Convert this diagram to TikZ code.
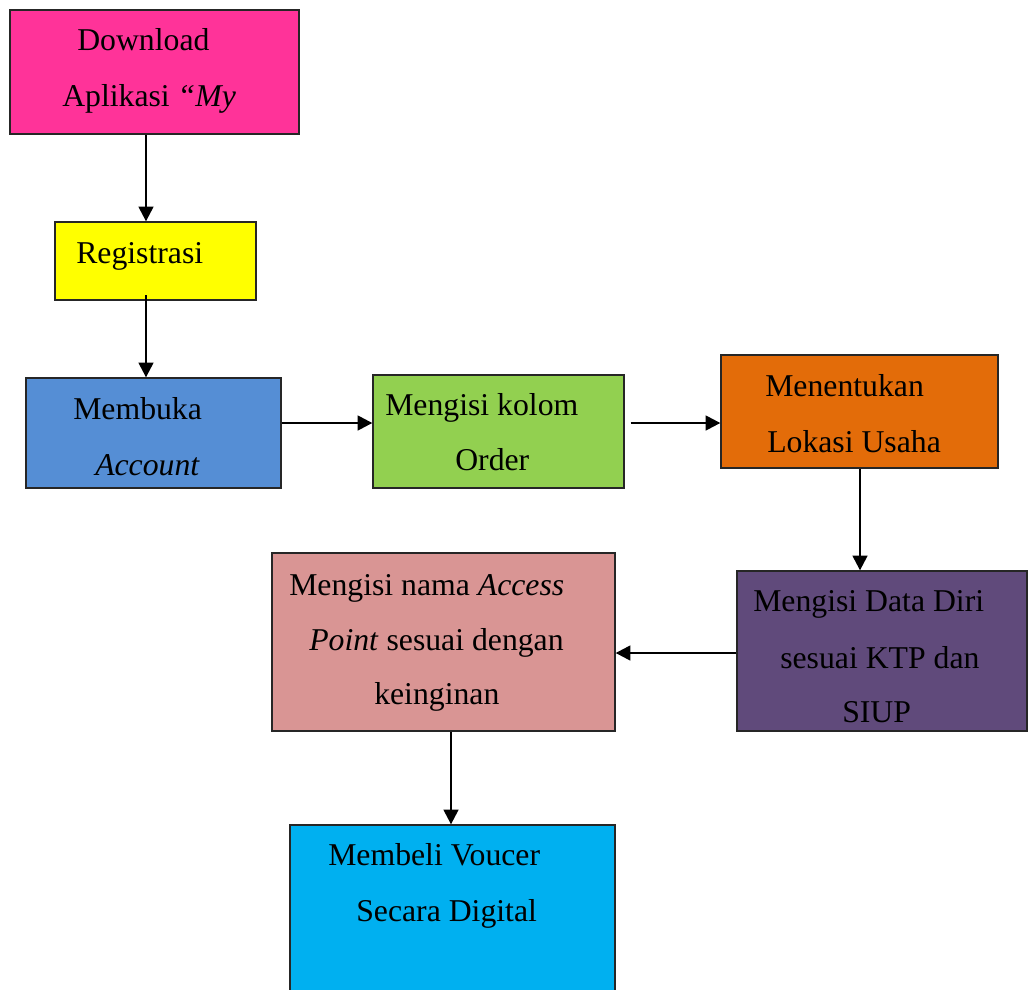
\documentclass[tikz,border=0pt]{standalone}
\usepackage{fontspec}
\setmainfont{Liberation Serif}
\usetikzlibrary{fit,arrows.meta}
\definecolor{cMag}{HTML}{FF3399}
\definecolor{cYel}{HTML}{FFFF00}
\definecolor{cBlue}{HTML}{558ED5}
\definecolor{cGreen}{HTML}{92D050}
\definecolor{cOrange}{HTML}{E36C09}
\definecolor{cPurple}{HTML}{604A7B}
\definecolor{cPink}{HTML}{D99594}
\definecolor{cCyan}{HTML}{00B0F0}
\tikzset{
  box/.style={draw=black!85, line width=1pt, inner sep=0pt},
  txt/.style={anchor=base west, inner sep=0pt, font=\fontsize{23.8}{28}\selectfont},
  arr/.style={line width=1.8pt, -{Triangle[length=11pt,width=11pt]}}
}
\begin{document}
\begin{tikzpicture}[x=0.75pt,y=-0.75pt]
\useasboundingbox (0,0) rectangle (1028,989);
% boxes
\node[box, fill=cMag, fit={(10,10)(299,134)}] (dl) {};
\node[box, fill=cYel, fit={(55,222)(256,300)}] (reg) {};
\node[box, fill=cBlue, fit={(26,378)(281,488)}] (acc) {};
\node[box, fill=cGreen, fit={(373,375)(624,488)}] (ord) {};
\node[box, fill=cOrange, fit={(721,355)(998,468)}] (lok) {};
\node[box, fill=cPurple, fit={(737,571)(1027,731)}] (ktp) {};
\node[box, fill=cPink, fit={(272,553)(615,731)}] (ap) {};
\node[box, fill=cCyan, fit={(290,825)(615,1000)}] (vc) {};
% texts
\node[txt] (t1) at (77,50) {Download};
\node[txt] (t2) at (62,106) {Aplikasi \textit{``My}};
\node[txt] (t3) at (76,263) {Registrasi};
\node[txt] (t4) at (73,419) {Membuka};
\node[txt] (t5) at (95,475) {\textit{Account}};
\node[txt] (t6) at (385,415) {Mengisi kolom};
\node[txt] (t7) at (455,470) {Order};
\node[txt] (t8) at (765,396) {Menentukan};
\node[txt] (t9) at (767,452) {Lokasi Usaha};
\node[txt] (t10) at (753,611) {Mengisi Data Diri};
\node[txt] (t11) at (780,668) {sesuai KTP dan};
\node[txt] (t12) at (842,722) {SIUP};
\node[txt] (t13) at (289,595) {Mengisi nama \textit{Access}};
\node[txt] (t14) at (309,650) {\textit{Point} sesuai dengan};
\node[txt] (t15) at (374,704) {keinginan};
\node[txt] (t16) at (328,865) {Membeli Voucer};
\node[txt] (t17) at (356,921) {Secara Digital};
% arrows
\draw[arr] (dl.south -| 146,0) -- (reg.north -| 146,0);
\draw[arr] ([yshift=4pt]reg.south -| 146,0) -- (acc.north -| 146,0);
\draw[arr] (acc.east |- 0,423) -- (ord.west |- 0,423);
\draw[arr] ([xshift=4.5pt]ord.east |- 0,423) -- (lok.west |- 0,423);
\draw[arr] (lok.south -| 860,0) -- (ktp.north -| 860,0);
\draw[arr] (ktp.west |- 0,653) -- (ap.east |- 0,653);
\draw[arr] (ap.south -| 451,0) -- (vc.north -| 451,0);
\end{tikzpicture}
\end{document}
